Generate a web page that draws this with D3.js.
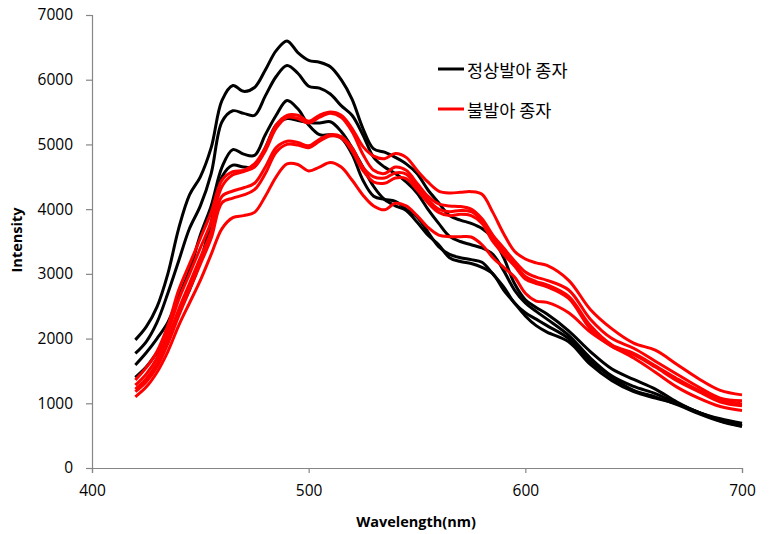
<!DOCTYPE html>
<html><head><meta charset="utf-8">
<script src="https://cdnjs.cloudflare.com/ajax/libs/d3/7.8.5/d3.min.js"></script>
<style>body{margin:0;background:#fff}svg{display:block}</style>
</head><body>
<script>
const wavelengths = [420,425,430,435,440,445,450,455,460,465,470,475,480,485,490,495,500,505,510,515,520,525,530,535,540,545,550,555,560,565,570,575,580,585,590,595,600,605,610,620,630,640,650,660,670,680,690,700];
const xTicks = [400,500,600,700];
const yTicks = [0,1000,2000,3000,4000,5000,6000,7000];
const legendLabels = ["정상발아 종자","불발아 종자"];

const normal1 = [1980,2180,2490,3000,3700,4220,4500,4950,5680,5910,5820,5880,6150,6450,6600,6420,6300,6270,6200,6000,5700,5250,4930,4880,4800,4700,4550,4300,4100,3900,3830,3780,3700,3550,3250,2850,2600,2480,2380,2120,1800,1530,1370,1220,1020,860,760,690];
const normal2 = [1770,1950,2250,2700,3200,3700,4050,4550,5350,5520,5480,5450,5750,6050,6220,6100,5900,5870,5780,5600,5450,5150,4800,4650,4550,4420,4250,4000,3780,3580,3500,3450,3400,3300,3050,2750,2550,2420,2300,2050,1700,1420,1260,1150,1000,860,730,650];
const normal3 = [1590,1780,2000,2250,2650,3050,3600,4050,4650,4920,4850,4830,5150,5450,5680,5550,5300,5150,5150,5100,4850,4450,4200,4150,4120,4000,3880,3650,3420,3300,3250,3220,3180,3000,2800,2550,2400,2300,2200,2000,1650,1400,1200,1100,980,840,720,640];
const normal4 = [1400,1560,1780,2000,2400,2750,3200,3800,4500,4680,4650,4660,4950,5300,5400,5370,5340,5330,5350,5200,4950,4650,4350,4150,4050,3980,3800,3600,3450,3250,3190,3160,3100,3000,2750,2550,2350,2200,2100,1950,1600,1350,1180,1080,990,860,740,660];
const fail1 = [1360,1550,1800,2200,2750,3150,3550,3950,4450,4580,4600,4700,4950,5300,5450,5450,5360,5450,5500,5450,5250,4970,4820,4780,4860,4800,4600,4420,4280,4250,4260,4270,4230,3950,3620,3350,3230,3170,3130,2900,2450,2150,1930,1820,1600,1380,1200,1130];
const fail2 = [1280,1450,1700,2100,2600,3000,3400,3800,4350,4530,4580,4650,4900,5250,5420,5400,5330,5420,5480,5420,5200,4850,4600,4550,4650,4600,4400,4200,4080,4050,4040,4000,3850,3600,3400,3200,3030,2950,2900,2750,2300,2000,1850,1650,1450,1250,1080,1040];
const fail3 = [1220,1380,1620,2000,2450,2850,3250,3650,4200,4280,4330,4400,4650,4950,5050,5030,4980,5080,5150,5120,4950,4650,4500,4480,4560,4540,4350,4150,4000,3960,3980,3960,3820,3550,3350,3150,2960,2880,2830,2650,2200,1900,1770,1580,1380,1200,1060,990];
const fail4 = [1180,1330,1560,1920,2350,2750,3150,3550,4100,4170,4220,4300,4550,4880,5000,4990,4950,5050,5130,5100,4900,4600,4420,4400,4480,4470,4300,4100,3950,3900,3920,3900,3780,3500,3300,3120,2920,2850,2800,2620,2150,1880,1750,1560,1350,1180,1020,960];
const fail5 = [1100,1250,1480,1800,2200,2550,2900,3300,3700,3870,3900,3950,4200,4500,4700,4690,4590,4650,4720,4650,4450,4220,4050,3990,4090,4050,3900,3720,3600,3575,3575,3570,3450,3250,3100,2950,2700,2580,2560,2400,2100,1880,1700,1480,1250,1080,950,890];

const normalSeries = [normal1, normal2, normal3, normal4];
const failSeries = [fail1, fail2, fail3, fail4, fail5];

const W = 770, H = 534;
const svg = d3.select("body").append("svg").attr("width", W).attr("height", H);
const x = d3.scaleLinear().domain([400,700]).range([92,742]);
const y = d3.scaleLinear().domain([0,7000]).range([468,15]);
const axisColor = "#868686";
const tickFont = "'Open Sans', 'Liberation Sans', sans-serif";

// axes
const gx = svg.append("g").attr("transform","translate(0,468)")
  .call(d3.axisBottom(x).tickValues(xTicks).tickSize(5).tickPadding(12).tickFormat(d3.format("d")));
const gy = svg.append("g").attr("transform","translate(92,0)")
  .call(d3.axisLeft(y).tickValues(yTicks).tickSize(6).tickPadding(13).tickFormat(d3.format("d")));
[gx, gy].forEach(g => {
  g.select(".domain").attr("stroke", axisColor).attr("stroke-width",1.2);
  g.selectAll(".tick line").attr("stroke", axisColor).attr("stroke-width",1.2);
  g.selectAll(".tick text").attr("fill","#000").style("font-family", tickFont).style("font-size","15.5px");
});

const line = d3.line().x((d,i) => x(wavelengths[i])).y(d => y(d)).curve(d3.curveCatmullRom.alpha(0.5));

svg.append("g").selectAll("path").data(normalSeries).join("path")
  .attr("d", line).attr("fill","none").attr("stroke","#000").attr("stroke-width",3).attr("stroke-linejoin","round");
svg.append("g").selectAll("path").data(failSeries).join("path")
  .attr("d", line).attr("fill","none").attr("stroke","#ff0000").attr("stroke-width",3).attr("stroke-linejoin","round");

// axis titles
svg.append("text").attr("x", 416).attr("y", 527).attr("text-anchor","middle")
  .style("font-family", tickFont).style("font-size","14.5px").style("font-weight","bold").text("Wavelength(nm)");
svg.append("text").attr("transform","translate(22,240) rotate(-90)").attr("text-anchor","middle")
  .style("font-family", tickFont).style("font-size","14.5px").style("font-weight","bold").text("Intensity");

// legend
const legendColors = ["#000","#ff0000"];
const lg = svg.append("g").selectAll("g").data(legendLabels).join("g")
  .attr("transform",(d,i)=>`translate(438,${69 + i*40})`);
lg.append("line").attr("x1",0).attr("x2",26).attr("y1",0).attr("y2",0)
  .attr("stroke",(d,i)=>legendColors[i]).attr("stroke-width",3);
lg.append("text").attr("x",29).attr("y",8).text(d=>d)
  .style("font-family","'Noto Sans CJK KR', sans-serif").style("font-size","17.5px").attr("fill","#000");
</script>
</body></html>
